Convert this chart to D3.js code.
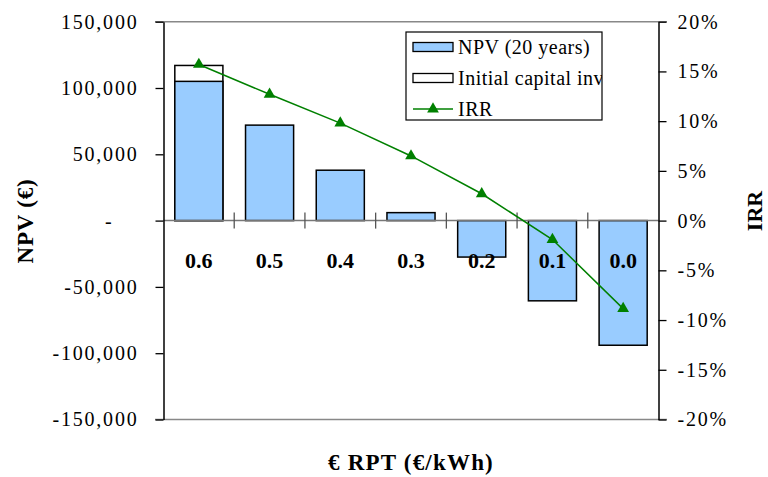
<!DOCTYPE html>
<html><head><meta charset="utf-8">
<script src="https://cdn.jsdelivr.net/npm/d3@7"></script>
<style>
body{margin:0;background:#fff;}
svg text{font-family:"Liberation Serif","Times New Roman",Times,"DejaVu Serif",serif !important;fill:#000;}
</style></head>
<body>
<svg id="c" width="768" height="477"></svg>
<script>
const categories = ["0.6","0.5","0.4","0.3","0.2","0.1","0.0"];
const npv = [105000, 72000, 38000, 6000, -27500, -60500, -94000];
const initialCapital = [117000, null, null, null, null, null, null];
const irr = [0.157, 0.127, 0.098, 0.065, 0.027, -0.019, -0.0885];
const leftTicks = [-150000,-100000,-50000,0,50000,100000,150000];
const rightTicks = [-0.2,-0.15,-0.1,-0.05,0,0.05,0.1,0.15,0.2];
const legendLabels = ["NPV (20 years)","Initial capital inv","IRR"];

const FONT = "'Liberation Serif', 'Times New Roman', Times, 'DejaVu Serif', serif";
const svg = d3.select("#c").attr("font-family", FONT);
const L = 163.5, R = 658.5, T = 21.7, B = 419.5;

const x = d3.scaleBand().domain(categories).range([L, R]).paddingInner(0.32).paddingOuter(0.16);
const yL = d3.scaleLinear().domain([-150000,150000]).range([B, T]);
const yR = d3.scaleLinear().domain([-0.2,0.2]).range([B, T]);

// top/bottom borders
svg.append("line").attr("x1",155).attr("x2",667).attr("y1",T).attr("y2",T).attr("stroke","#888").attr("stroke-width",1.5);
svg.append("line").attr("x1",155).attr("x2",667).attr("y1",B).attr("y2",B).attr("stroke","#888").attr("stroke-width",1.5);

// initial capital bars (behind)
svg.append("g").selectAll("rect").data(categories.map((c,i)=>({c,v:initialCapital[i]})).filter(d=>d.v!=null))
  .join("rect")
  .attr("x",d=>x(d.c)).attr("width",x.bandwidth())
  .attr("y",d=>yL(Math.max(0,d.v))).attr("height",d=>Math.abs(yL(d.v)-yL(0)))
  .attr("fill","#fff").attr("stroke","#000").attr("stroke-width",1.5);

// NPV bars
svg.append("g").selectAll("rect").data(categories.map((c,i)=>({c,v:npv[i]})))
  .join("rect")
  .attr("x",d=>x(d.c)).attr("width",x.bandwidth())
  .attr("y",d=>yL(Math.max(0,d.v))).attr("height",d=>Math.abs(yL(d.v)-yL(0)))
  .attr("fill","#99CCFF").attr("stroke","#000").attr("stroke-width",1.5);

// zero line
svg.append("line").attr("x1",L).attr("x2",R).attr("y1",yL(0)).attr("y2",yL(0)).attr("stroke","#777").attr("stroke-width",1.5);

// category ticks at band boundaries
const step = x.step();
svg.append("g").selectAll("line").data(d3.range(1,categories.length))
  .join("line")
  .attr("x1",i=>L+i*step).attr("x2",i=>L+i*step)
  .attr("y1",yL(0)-8).attr("y2",yL(0)+8)
  .attr("stroke","#555").attr("stroke-width",1.3);

// category labels
svg.append("g").selectAll("text").data(categories)
  .join("text")
  .attr("x",d=>x(d)+x.bandwidth()/2).attr("y",268)
  .attr("text-anchor","middle").attr("font-weight","bold").attr("font-size",22)
  .text(d=>d);

// left axis
const fmtL = v => v===0 ? "-" : d3.format(",")(v).replace("−","-");
const gL = svg.append("g").attr("transform",`translate(${L},0)`)
  .call(d3.axisLeft(yL).tickValues(leftTicks).tickSize(8).tickSizeOuter(0).tickPadding(17).tickFormat(fmtL));
gL.attr("font-family", FONT);
gL.select(".domain").attr("stroke","#000").attr("stroke-width",1.5);
gL.selectAll(".tick line").attr("stroke","#000").attr("stroke-width",1.3);
gL.selectAll(".tick text").attr("font-size",20)
  .attr("letter-spacing","1.8px").attr("fill","#000")
  .attr("dx",d=>d===0?-25:0);

// right axis
const fmtR = v => (Math.round(v*100)+"%");
const gR = svg.append("g").attr("transform",`translate(${R},0)`)
  .call(d3.axisRight(yR).tickValues(rightTicks).tickSize(8).tickSizeOuter(0).tickPadding(11).tickFormat(fmtR));
gR.attr("font-family", FONT);
gR.select(".domain").attr("stroke","#000").attr("stroke-width",1.5);
gR.selectAll(".tick line").attr("stroke","#000").attr("stroke-width",1.3);
gR.selectAll(".tick text").attr("font-size",20)
  .attr("letter-spacing","1.8px").attr("fill","#000");

// IRR line
const cx = d => x(d)+x.bandwidth()/2;
const line = d3.line().x((d,i)=>cx(categories[i])).y(d=>yR(d));
svg.append("path").attr("d",line(irr)).attr("fill","none").attr("stroke","#008000").attr("stroke-width",1.5);
const tri = d3.symbol().type(d3.symbolTriangle).size(60);
svg.append("g").selectAll("path").data(irr).join("path")
  .attr("transform",(d,i)=>`translate(${cx(categories[i])},${yR(d)})`)
  .attr("d",tri).attr("fill","#008000");

// axis titles
svg.append("text").attr("transform","translate(33,221) rotate(-90)").attr("text-anchor","middle")
  .attr("font-weight","bold").attr("font-size",23).attr("letter-spacing","0.8px").text("NPV (€)");
svg.append("text").attr("transform","translate(762,211) rotate(-90)").attr("text-anchor","middle")
  .attr("font-weight","bold").attr("font-size",22).text("IRR");
svg.append("text").attr("x",411).attr("y",470).attr("text-anchor","middle")
  .attr("font-weight","bold").attr("font-size",23).attr("letter-spacing","1.2px").text("€ RPT (€/kWh)");

// legend
const lg = svg.append("g");
const lx = 406, ly = 32, lw = 196, lh = 88;
svg.append("defs").append("clipPath").attr("id","lgclip").append("rect").attr("x",lx).attr("y",ly).attr("width",lw).attr("height",lh);
lg.append("rect").attr("x",lx).attr("y",ly).attr("width",lw).attr("height",lh).attr("fill","#fff").attr("stroke","#000").attr("stroke-width",1.2);
const rows = [47, 78, 109];
lg.append("rect").attr("x",413).attr("y",rows[0]-4.5).attr("width",40).attr("height",9).attr("fill","#99CCFF").attr("stroke","#000").attr("stroke-width",1.3);
lg.append("rect").attr("x",413).attr("y",rows[1]-4.5).attr("width",40).attr("height",9).attr("fill","#fff").attr("stroke","#000").attr("stroke-width",1.3);
lg.append("line").attr("x1",413).attr("x2",453).attr("y1",rows[2]).attr("y2",rows[2]).attr("stroke","#008000").attr("stroke-width",1.5);
lg.append("path").attr("transform",`translate(433,${rows[2]})`).attr("d",tri).attr("fill","#008000");
const lt = lg.append("g").attr("clip-path","url(#lgclip)");
lt.selectAll("text").data(legendLabels).join("text")
  .attr("x",458).attr("y",(d,i)=>rows[i]+7).attr("font-size",20).attr("letter-spacing","0.5px").text(d=>d);
</script>
</body></html>
